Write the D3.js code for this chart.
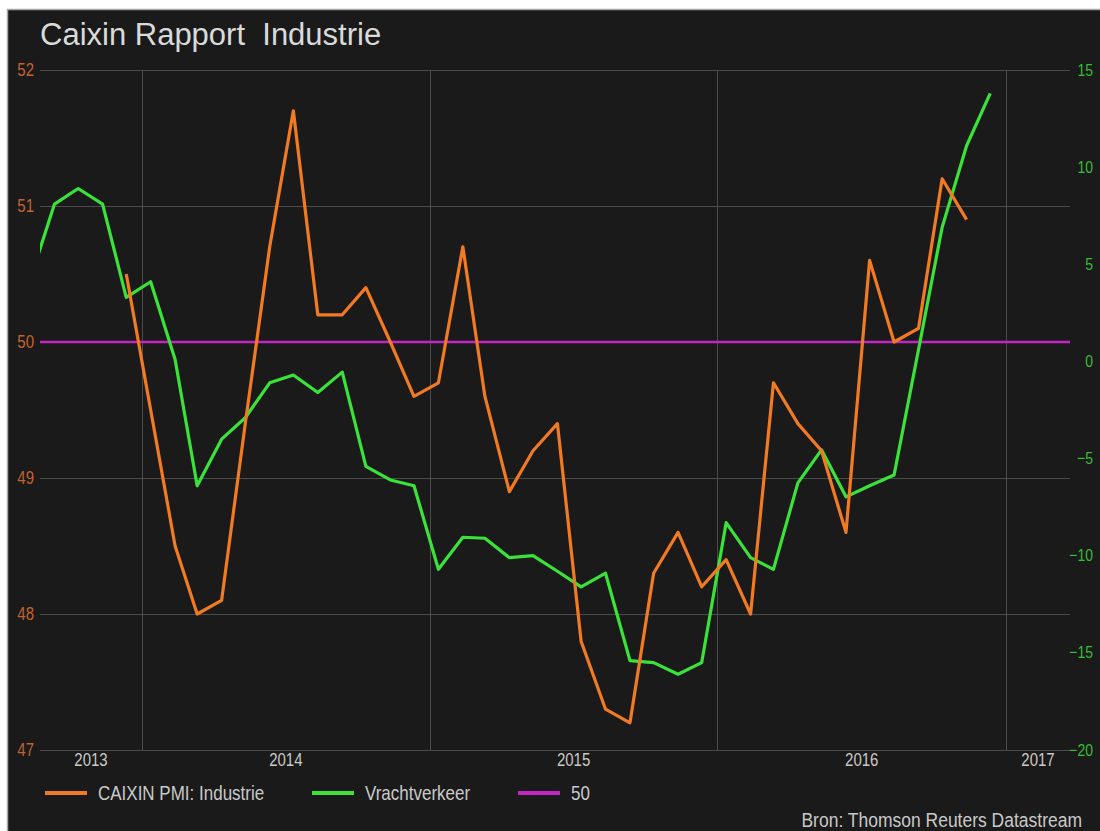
<!DOCTYPE html>
<html>
<head>
<meta charset="utf-8">
<script src="https://cdn.jsdelivr.net/npm/d3@7"></script>
<style>
  body { margin: 0; background: #fff; }
  svg text { font-family: "Liberation Sans", Arial, sans-serif; }
  .grid line { stroke: #4b4b4b; stroke-width: 1; shape-rendering: crispEdges; }
  .grid .domain, .labels .domain { display: none; }
</style>
</head>
<body>
<div id="chart"></div>
<script>
// monthly observations (month, Caixin PMI, freight volume % y/y)
var months = ['2013-08','2013-09','2013-10','2013-11','2013-12',
  '2014-01','2014-02','2014-03','2014-04','2014-05','2014-06','2014-07','2014-08','2014-09','2014-10','2014-11','2014-12',
  '2015-01','2015-02','2015-03','2015-04','2015-05','2015-06','2015-07','2015-08','2015-09','2015-10','2015-11','2015-12',
  '2016-01','2016-02','2016-03','2016-04','2016-05','2016-06','2016-07','2016-08','2016-09','2016-10','2016-11','2016-12'];
var pmi = [null, null, null, null, 50.5,
  49.5, 48.5, 48.0, 48.1, 49.4, 50.7, 51.7, 50.2, 50.2, 50.4, 50.0, 49.6,
  49.7, 50.7, 49.6, 48.9, 49.2, 49.4, 47.8, 47.3, 47.2, 48.3, 48.6, 48.2,
  48.4, 48.0, 49.7, 49.4, 49.2, 48.6, 50.6, 50.0, 50.1, 51.2, 50.9, null];
var freight = [4.2, 8.1, 8.9, 8.1, 3.3,
  4.1, 0.1, -6.4, -4.0, -2.9, -1.1, -0.7, -1.6, -0.55, -5.4, -6.1, -6.4,
  -10.7, -9.05, -9.1, -10.1, -10.0, -10.8, -11.6, -10.9, -15.4, -15.5, -16.1, -15.5,
  -8.3, -10.1, -10.7, -6.25, -4.55, -6.97, -6.4, -5.85, 0.6, 6.9, 11.1, 13.8];

var leftTicks = [47, 48, 49, 50, 51, 52];
var rightTicks = [-20, -15, -10, -5, 0, 5, 10, 15];
var yearStarts = ['2014-01-01', '2015-01-01', '2016-01-01', '2017-01-01'];
var yearLabels = [2013, 2014, 2015, 2016, 2017];
var refValue = 50;
var legendLabels = ['CAIXIN PMI: Industrie', 'Vrachtverkeer', '50'];

var width = 1100, height = 831,
    plot = {left: 40, right: 1070, top: 70, bottom: 750},
    stretch = 'scale(1,1.2)';

var colors = {pmi: '#f27a22', freight: '#3ae23a', ref: '#c424c4',
  bg: '#1a1a1a', text: '#c9c9c9', leftTick: '#c4622e', rightTick: '#36be36'};

var parseMonth = function (s) { var p = s.split('-'); return new Date(+p[0], +p[1] - 1, 12); };
var parseDay = d3.timeParse('%Y-%m-%d');

var svg = d3.select('#chart').append('svg')
    .attr('width', width)
    .attr('height', height);

// dark panel with light frame on top/left
svg.append('rect').attr('x', 8).attr('y', 9).attr('width', width - 8).attr('height', height - 9)
    .attr('fill', colors.bg);
svg.append('path').attr('d', 'M7.5,' + height + 'V9.5H' + width)
    .attr('fill', 'none').attr('stroke', '#a8a8a8').attr('stroke-width', 1.5);

// x: years 2014..2016 between the vertical gridlines
var x = d3.scaleTime()
    .domain([parseDay(yearStarts[0]), parseDay(yearStarts[3])])
    .range([142, 1006]);
var xMin = x.invert(plot.left), xMax = x.invert(plot.right);

var yL = d3.scaleLinear().domain([47, 52]).range([plot.bottom, plot.top]);
var yR = d3.scaleLinear().domain([-20, 15]).range([plot.bottom, plot.top]);

// gridlines
svg.append('g').attr('class', 'grid')
    .attr('transform', 'translate(' + plot.left + ',0)')
    .call(d3.axisLeft(yL).tickValues(leftTicks).tickSize(-(plot.right - plot.left)).tickFormat(''));
svg.append('g').attr('class', 'grid')
    .attr('transform', 'translate(0,' + plot.bottom + ')')
    .call(d3.axisBottom(x).tickValues(yearStarts.map(parseDay)).tickSize(-(plot.bottom - plot.top)).tickFormat(''));

// left axis labels
var leftAxis = svg.append('g').attr('class', 'labels')
    .attr('transform', 'translate(' + plot.left + ',0)')
    .attr('font-family', null)
    .call(d3.axisLeft(yL).tickValues(leftTicks).tickFormat(d3.format('d')).tickSize(0).tickPadding(6));
leftAxis.selectAll('text').attr('fill', colors.leftTick).attr('font-size', 15)
    .attr('transform', stretch).attr('dy', '0.3em');

// right axis labels (right aligned)
var rightAxis = svg.append('g').attr('class', 'labels')
    .attr('transform', 'translate(' + plot.right + ',0)')
    .call(d3.axisRight(yR).tickValues(rightTicks).tickFormat(d3.format('d')).tickSize(0).tickPadding(23));
rightAxis.selectAll('text').attr('fill', colors.rightTick).attr('font-size', 14)
    .attr('text-anchor', 'end').attr('transform', stretch).attr('dy', '0.3em');
svg.selectAll('.labels').attr('font-family', null);

// year labels centred in each visible year
svg.append('g').selectAll('text')
    .data(yearLabels)
    .join('text')
    .attr('transform', function (d) {
        var a = new Date(Math.max(new Date(d, 0, 1), xMin)),
            b = new Date(Math.min(new Date(d + 1, 0, 1), xMax));
        return 'translate(' + ((x(a) + x(b)) / 2) + ',' + (plot.bottom + 10) + ') ' + stretch;
    })
    .attr('text-anchor', 'middle')
    .attr('dy', '0.35em')
    .attr('font-size', 15)
    .attr('fill', colors.text)
    .text(function (d) { return d; });

// title
svg.append('text').attr('x', 40).attr('y', 45)
    .attr('font-size', 31).attr('fill', '#dadada')
    .attr('xml:space', 'preserve')
    .text('Caixin Rapport  Industrie');

// clip lines to plot area
svg.append('clipPath').attr('id', 'clip')
    .append('rect').attr('x', plot.left).attr('y', plot.top)
    .attr('width', plot.right - plot.left).attr('height', plot.bottom - plot.top);

var layer = svg.append('g').attr('clip-path', 'url(#clip)');

// 50 reference line
layer.append('line')
    .attr('x1', plot.left).attr('x2', plot.right)
    .attr('y1', yL(refValue)).attr('y2', yL(refValue))
    .attr('stroke', colors.ref).attr('stroke-width', 2.5);

var rows = months.map(function (m, i) { return {date: parseMonth(m), pmi: pmi[i], freight: freight[i]}; });

var freightLine = d3.line()
    .defined(function (d) { return d.freight != null; })
    .x(function (d) { return x(d.date); })
    .y(function (d) { return yR(d.freight); });
var pmiLine = d3.line()
    .defined(function (d) { return d.pmi != null; })
    .x(function (d) { return x(d.date); })
    .y(function (d) { return yL(d.pmi); });

layer.append('path').datum(rows.filter(function (d) { return d.freight != null; }))
    .attr('d', freightLine)
    .attr('fill', 'none').attr('stroke', colors.freight).attr('stroke-width', 3.2)
    .attr('stroke-linejoin', 'round');
layer.append('path').datum(rows.filter(function (d) { return d.pmi != null; }))
    .attr('d', pmiLine)
    .attr('fill', 'none').attr('stroke', colors.pmi).attr('stroke-width', 3.2)
    .attr('stroke-linejoin', 'round');

// legend
var legendX = [45, 312, 518],
    legendColors = [colors.pmi, colors.freight, colors.ref],
    legendY = 793;
var item = svg.append('g').selectAll('g')
    .data(legendLabels)
    .join('g')
    .attr('transform', function (d, i) { return 'translate(' + legendX[i] + ',' + legendY + ')'; });
item.append('line').attr('x1', 0).attr('x2', 42)
    .attr('stroke', function (d, i) { return legendColors[i]; })
    .attr('stroke-width', 4);
item.append('text')
    .attr('transform', 'translate(53,0) ' + stretch)
    .attr('dy', '0.35em')
    .attr('font-size', 17)
    .attr('fill', colors.text)
    .text(function (d) { return d; });

// source
svg.append('text')
    .attr('transform', 'translate(1082,820) scale(1,1.15)')
    .attr('text-anchor', 'end')
    .attr('dy', '0.35em')
    .attr('font-size', 17.5)
    .attr('fill', colors.text)
    .text('Bron: Thomson Reuters Datastream');
</script>
</body>
</html>
